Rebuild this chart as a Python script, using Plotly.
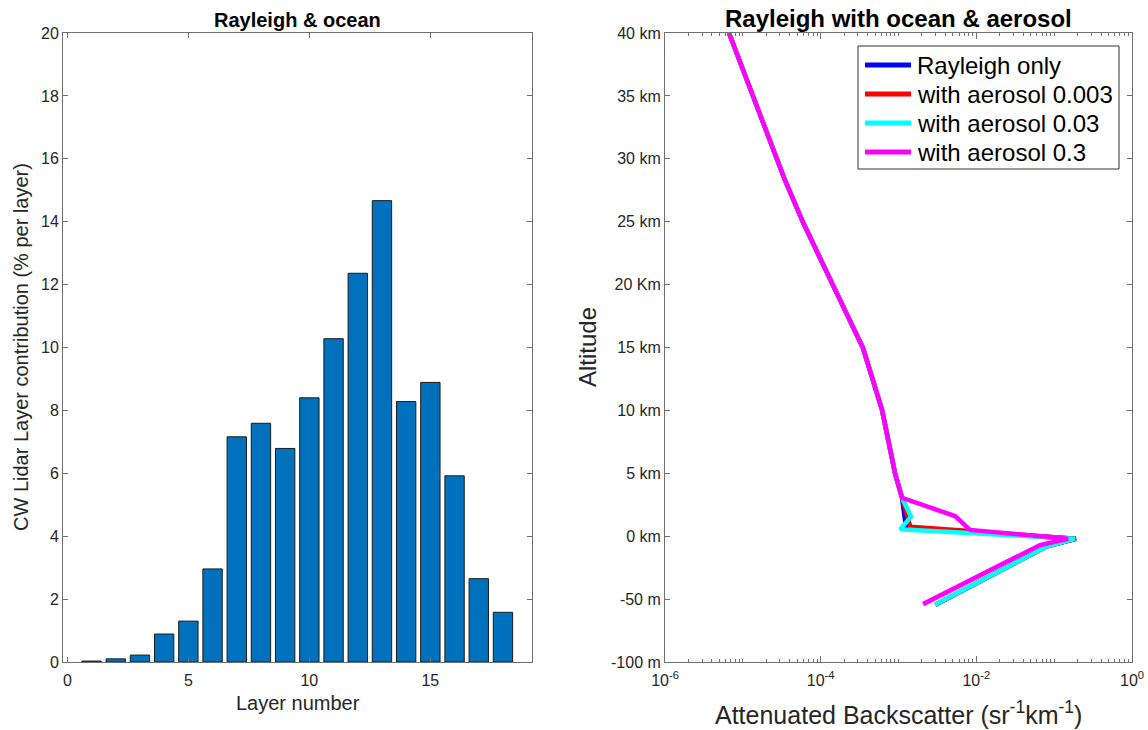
import plotly.graph_objects as go

W, H = 1148, 730
FONT = "Liberation Sans, Arial, Helvetica, sans-serif"
TXT = "#262626"
AX = "#707070"

# ---- Left panel: CW lidar layer contribution ----
layer_number = list(range(1, 19))
layer_contribution = [0.03, 0.10, 0.22, 0.89, 1.30, 2.96, 7.16, 7.59, 6.79,
                      8.40, 10.28, 12.36, 14.67, 8.28, 8.89, 5.92, 2.65, 1.58]

# ---- Right panel: attenuated backscatter profiles ----
# vertical position on the level scale (0 = -100 m ... 10 = 40 km)
altitude_tickpos = [0, 1, 2, 3, 4, 5, 6, 7, 8, 9, 10]
altitude_ticktext = ["-100 m", "-50 m", "0 km", "5 km", "10 km", "15 km",
                     "20 Km", "25 km", "30 km", "35 km", "40 km"]

rayleigh_level = [10.0, 7.66, 6.99, 5.99, 5.55, 4.99, 4.01, 3.53, 3.00, 2.61,
                  2.34, 2.14, 1.96, 1.84, 0.91]
rayleigh_bsc = [6.64e-6, 3.48e-5, 5.93e-5, 1.44e-4, 2.18e-4, 3.50e-4, 6.14e-4,
                7.33e-4, 9.02e-4, 1.11e-3, 1.18e-3, 1.25e-3, 0.19, 0.081, 2.98e-3]

aer003_level = [10.0, 7.66, 6.99, 5.99, 5.55, 4.99, 4.01, 3.53, 3.00, 2.61,
                2.34, 2.15, 1.96, 1.84, 0.91]
aer003_bsc = [6.64e-6, 3.48e-5, 5.93e-5, 1.44e-4, 2.18e-4, 3.50e-4, 6.14e-4,
              7.33e-4, 9.02e-4, 1.11e-3, 1.30e-3, 1.42e-3, 0.19, 0.081, 2.98e-3]

aer03_level = [10.0, 7.66, 6.99, 5.99, 5.55, 4.99, 4.01, 3.53, 3.00, 2.61,
               2.31, 2.11, 1.96, 1.84, 0.91]
aer03_bsc = [6.64e-6, 3.48e-5, 5.93e-5, 1.44e-4, 2.18e-4, 3.50e-4, 6.14e-4,
             7.33e-4, 9.02e-4, 1.11e-3, 1.45e-3, 1.05e-3, 0.185, 0.0809, 2.94e-3]

aer3_level = [10.0, 7.66, 6.99, 5.99, 5.55, 4.99, 4.01, 3.53, 3.00, 2.61,
              2.32, 2.10, 1.96, 1.86, 0.92]
aer3_bsc = [6.64e-6, 3.48e-5, 5.93e-5, 1.44e-4, 2.18e-4, 3.50e-4, 6.14e-4,
            7.33e-4, 9.02e-4, 1.11e-3, 5.32e-3, 8.30e-3, 0.151, 0.0658, 2.07e-3]

series_names = ["Rayleigh only", "with aerosol 0.003", "with aerosol 0.03", "with aerosol 0.3"]
series_colors = ["#0000FF", "#FF0000", "#00FFFF", "#FF00FF"]

bsc_tickvals = [1e-6, 1e-4, 1e-2, 1]
bsc_ticktext = ["10<sup>-6</sup>", "10<sup>-4</sup>", "10<sup>-2</sup>", "10<sup>0</sup>"]
bsc_minor = [k * 10.0 ** e for e in range(-6, 0) for k in range(1, 10)
             if not (k == 1 and e % 2 == 0)]

fig = go.Figure()

fig.add_trace(go.Bar(
    x=layer_number, y=layer_contribution, width=0.8,
    marker=dict(color="#0072BD", line=dict(color="#1a1a1a", width=1)),
    xaxis="x", yaxis="y", showlegend=False,
))

profiles = [(rayleigh_bsc, rayleigh_level), (aer003_bsc, aer003_level),
            (aer03_bsc, aer03_level), (aer3_bsc, aer3_level)]
for (xs, ys), name, col in zip(profiles, series_names, series_colors):
    fig.add_trace(go.Scatter(
        x=xs, y=ys, mode="lines", name=name,
        line=dict(color=col, width=4.5),
        xaxis="x2", yaxis="y2", showlegend=False,
    ))

ydom = [(H - 662) / H, (H - 33) / H]
tickfont = dict(family=FONT, size=16, color=TXT)
common_axis = dict(showline=True, linecolor=AX, linewidth=1, mirror="ticks",
                   ticks="inside", tickcolor=AX, showgrid=False, zeroline=False,
                   automargin=False)

fig.update_layout(
    width=W, height=H, autosize=False,
    margin=dict(l=0, r=0, t=0, b=0, pad=0, autoexpand=False),
    paper_bgcolor="white", plot_bgcolor="white",
    font=dict(family=FONT, color=TXT),
    showlegend=False,
    xaxis=dict(domain=[63 / W, 532 / W], range=[-0.18, 19.2],
               tickvals=[0, 5, 10, 15], ticklen=5, anchor="y",
               ticklabelstandoff=4, tickfont=tickfont, **common_axis),
    yaxis=dict(domain=ydom, range=[0, 20], tickvals=list(range(0, 21, 2)),
               ticklen=5, anchor="x", tickfont=tickfont, **common_axis),
    xaxis2=dict(domain=[665 / W, 1132 / W], type="log", range=[-6, 0],
                tickvals=bsc_tickvals, ticktext=bsc_ticktext, ticklen=6,
                anchor="y2", ticklabelstandoff=4, tickfont=tickfont,
                minor=dict(tickvals=bsc_minor, ticks="inside", ticklen=3,
                           tickcolor=AX, showgrid=False),
                **common_axis),
    # top edge of the log panel carries the same minor ticks
    xaxis3=dict(domain=[665 / W, 1132 / W], type="log", range=[-6, 0],
                overlaying="x2", side="top", anchor="y2",
                showline=False, showgrid=False, zeroline=False,
                showticklabels=False, ticks="", automargin=False,
                minor=dict(tickvals=bsc_minor, ticks="inside", ticklen=3,
                           tickcolor=AX, showgrid=False)),
    yaxis2=dict(domain=ydom, range=[0, 10], tickvals=altitude_tickpos,
                ticktext=altitude_ticktext, ticklen=5, anchor="x2",
                tickfont=tickfont, **common_axis),
)

# Legend for the backscatter profiles
leg_left, leg_right, leg_top, leg_bottom = 858, 1119, 46, 169
row_y = [65, 94, 123, 152]
shapes = [dict(type="rect", xref="paper", yref="paper",
               x0=leg_left / W, x1=leg_right / W,
               y0=(H - leg_bottom) / H, y1=(H - leg_top) / H,
               line=dict(color="#333333", width=1), fillcolor="white", layer="above")]
annotations = []
for name, col, ry in zip(series_names, series_colors, row_y):
    shapes.append(dict(type="line", xref="paper", yref="paper",
                       x0=865 / W, x1=911 / W, y0=(H - ry) / H, y1=(H - ry) / H,
                       line=dict(color=col, width=5), layer="above"))
    annotations.append(dict(text=name, x=915 / W, y=(H - ry) / H,
                            xanchor="left", yanchor="middle",
                            font=dict(size=24, color="black")))
fig.update_layout(shapes=shapes)

annotations += [
    dict(text="<b>Rayleigh & ocean</b>", x=297.5 / W, y=(H - 20) / H,
         font=dict(size=20, color="black")),
    dict(text="<b>Rayleigh with ocean & aerosol</b>", x=898.5 / W, y=(H - 18) / H,
         font=dict(size=24, color="black")),
    dict(text="Layer number", x=297.5 / W, y=(H - 703) / H,
         font=dict(size=20, color=TXT)),
    dict(text="CW Lidar Layer contribution (% per layer)", x=21 / W, y=(H - 347) / H,
         textangle=-90, font=dict(size=20, color=TXT)),
    dict(text="Altitude", x=587 / W, y=(H - 347) / H, textangle=-90,
         font=dict(size=24, color=TXT)),
    dict(text="Attenuated Backscatter (sr<sup>-1</sup>km<sup>-1</sup>)",
         x=898.5 / W, y=(H - 713) / H, font=dict(size=25, color=TXT)),
]
for a in annotations:
    a.setdefault("xanchor", "center")
    a.setdefault("yanchor", "middle")
    a.update(xref="paper", yref="paper", showarrow=False)
    a["font"]["family"] = FONT
fig.update_layout(annotations=annotations)

fig.write_html("out.html")
